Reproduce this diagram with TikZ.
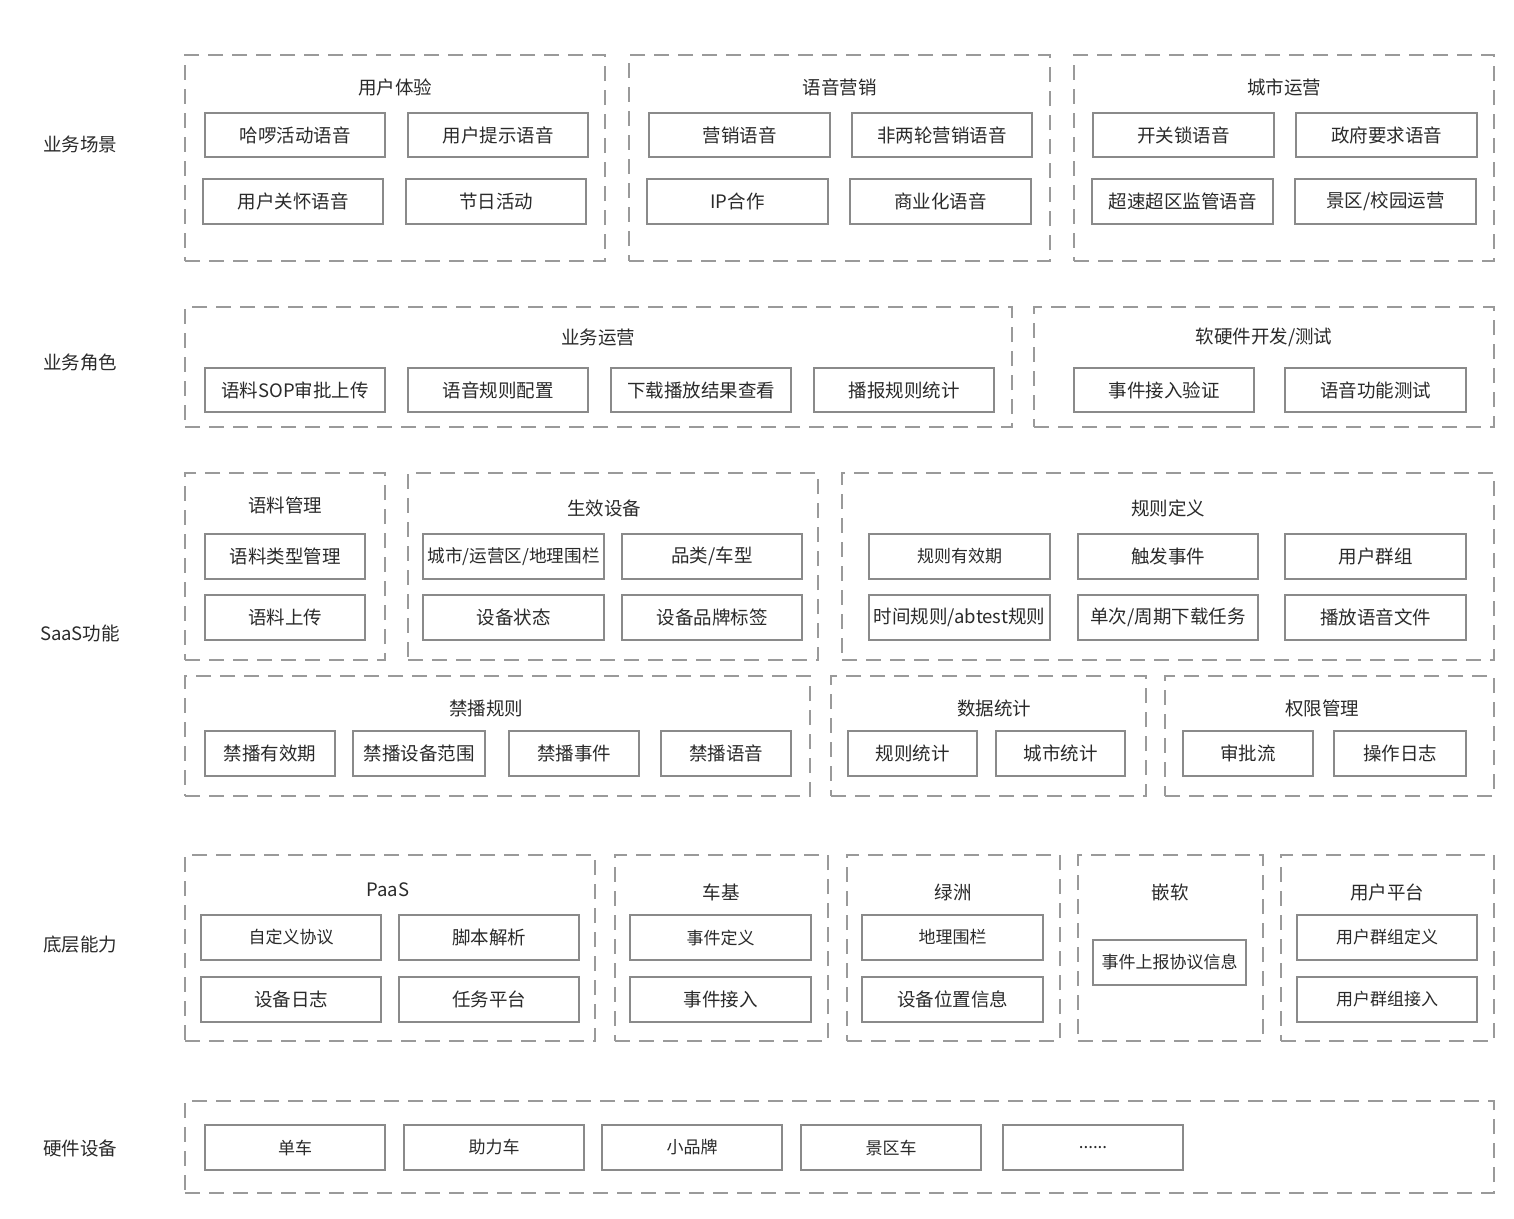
\documentclass[tikz,border=0pt]{standalone}
\usepackage{fontspec}
\setmainfont{Noto Sans CJK SC}
\definecolor{txt}{HTML}{2A2A2A}
\definecolor{bxline}{HTML}{8A8A8A}
\definecolor{grpline}{HTML}{9A9A9A}
\tikzset{
  bx/.style={draw=bxline,line width=1.3pt,fill=white,text=txt,inner sep=0pt,
    font=\fontsize{18.5}{20}\selectfont},
  smallbx/.style={font=\fontsize{17}{18}\selectfont},
  midbx/.style={font=\fontsize{17.6}{18}\selectfont},
  grp/.style={draw=grpline,line width=1.3pt,dash pattern=on 15pt off 9pt,inner sep=0pt},
  ttl/.style={text=txt,inner sep=0pt,font=\fontsize{18.5}{20}\selectfont},
  side/.style={text=txt,inner sep=0pt,font=\fontsize{18.5}{20}\selectfont}
}
\newcommand\mybox[7][]{%
  \pgfmathsetmacro\mbcx{(#3+#5)/2}\pgfmathsetmacro\mbcy{(#4+#6)/2}%
  \pgfmathsetmacro\mbww{#5-#3}\pgfmathsetmacro\mbhh{#6-#4}%
  \node[bx,#1,minimum width=\mbww pt,minimum height=\mbhh pt] (#2) at (\mbcx,\mbcy) {\raisebox{-1.5pt}{#7}};}
% name, x1, y1, x2, y2, title, title x, title y
\newcommand\mygrp[8]{%
  \pgfmathsetmacro\mbcx{(#2+#4)/2}\pgfmathsetmacro\mbcy{(#3+#5)/2}%
  \pgfmathsetmacro\mbww{#4-#2}\pgfmathsetmacro\mbhh{#5-#3}%
  \node[grp,minimum width=\mbww pt,minimum height=\mbhh pt] (#1) at (\mbcx,\mbcy) {};
  \node[ttl] (#1t) at (#7,#8) {#6};}
\begin{document}
\begin{tikzpicture}[x=1pt,y=-1pt]
\useasboundingbox[fill=white] (0,0) rectangle (1514,1218);
% side labels
\node[side] (s1) at (80,144) {业务场景};
\node[side] (s2) at (80,363) {业务角色};
\node[side] (s3) at (80,633) {SaaS功能};
\node[side] (s4) at (80,945) {底层能力};
\node[side] (s5) at (80,1148) {硬件设备};
% Row 1
\mygrp{g11}{185}{55}{605}{261}{用户体验}{395}{87}
\mybox{a1}{205}{113}{385}{157}{哈啰活动语音}
\mybox{a2}{408}{113}{588}{157}{用户提示语音}
\mybox{a3}{203}{179}{383}{224}{用户关怀语音}
\mybox{a4}{406}{179}{586}{224}{节日活动}
\mygrp{g12}{629}{55}{1050}{261}{语音营销}{839.5}{87}
\mybox{a5}{649}{113}{830}{157}{营销语音}
\mybox{a6}{852}{113}{1032}{157}{非两轮营销语音}
\mybox{a7}{647}{179}{828}{224}{IP合作}
\mybox{a8}{850}{179}{1031}{224}{商业化语音}
\mygrp{g13}{1074}{55}{1494}{261}{城市运营}{1284}{87}
\mybox{a9}{1093}{113}{1274}{157}{开关锁语音}
\mybox{a10}{1296}{113}{1477}{157}{政府要求语音}
\mybox{a11}{1092}{179}{1273}{224}{超速超区监管语音}
\mybox{a12}{1295}{179}{1476}{224}{景区/校园运营}
% Row 2
\mygrp{g21}{185}{307}{1012}{427}{业务运营}{598}{337}
\mybox{b1}{205}{368}{385}{412}{语料SOP审批上传}
\mybox{b2}{408}{368}{588}{412}{语音规则配置}
\mybox{b3}{611}{368}{791}{412}{下载播放结果查看}
\mybox{b4}{814}{368}{994}{412}{播报规则统计}
\mygrp{g22}{1034}{307}{1494}{427}{软硬件开发/测试}{1264}{337}
\mybox{b5}{1074}{368}{1254}{412}{事件接入验证}
\mybox{b6}{1285}{368}{1466}{412}{语音功能测试}
% Row 3
\mygrp{g31}{185}{473}{385}{660}{语料管理}{285}{505}
\mybox{c1}{205}{534}{365}{579}{语料类型管理}
\mybox{c2}{205}{595}{365}{640}{语料上传}
\mygrp{g32}{408}{473}{818}{660}{生效设备}{604}{508}
\mybox[midbx]{c3}{423}{534}{604}{579}{城市/运营区/地理围栏}
\mybox{c4}{622}{534}{802}{579}{品类/车型}
\mybox{c5}{423}{595}{604}{640}{设备状态}
\mybox{c6}{622}{595}{802}{640}{设备品牌标签}
\mygrp{g33}{842}{473}{1494}{660}{规则定义}{1168}{508}
\mybox[smallbx]{c7}{869}{534}{1050}{579}{规则有效期}
\mybox{c8}{1078}{534}{1258}{579}{触发事件}
\mybox{c9}{1285}{534}{1466}{579}{用户群组}
\mybox{c10}{869}{595}{1050}{640}{时间规则/abtest规则}
\mybox{c11}{1078}{595}{1258}{640}{单次/周期下载任务}
\mybox{c12}{1285}{595}{1466}{640}{播放语音文件}
% Row 4
\mygrp{g41}{185}{676}{810}{796}{禁播规则}{486}{708}
\mybox{d1}{205}{731}{335}{776}{禁播有效期}
\mybox{d2}{353}{731}{485}{776}{禁播设备范围}
\mybox{d3}{509}{731}{639}{776}{禁播事件}
\mybox{d4}{661}{731}{791}{776}{禁播语音}
\mygrp{g42}{831}{676}{1146}{796}{数据统计}{994}{708}
\mybox{d5}{848}{731}{977}{776}{规则统计}
\mybox{d6}{996}{731}{1125}{776}{城市统计}
\mygrp{g43}{1165}{676}{1494}{796}{权限管理}{1322}{708}
\mybox{d7}{1183}{731}{1313}{776}{审批流}
\mybox{d8}{1334}{731}{1466}{776}{操作日志}
% Row 5
\mygrp{g51}{185}{855}{595}{1041}{PaaS}{388}{890}
\mybox[smallbx]{e1}{201}{915}{381}{960}{自定义协议}
\mybox{e2}{399}{915}{579}{960}{脚本解析}
\mybox{e3}{201}{977}{381}{1022}{设备日志}
\mybox{e4}{399}{977}{579}{1022}{任务平台}
\mygrp{g52}{615}{855}{828}{1041}{车基}{721}{892}
\mybox[smallbx]{e5}{630}{915}{811}{960}{事件定义}
\mybox{e6}{630}{977}{811}{1022}{事件接入}
\mygrp{g53}{847}{855}{1060}{1041}{绿洲}{953}{892}
\mybox[smallbx]{e7}{862}{915}{1043}{960}{地理围栏}
\mybox{e8}{862}{977}{1043}{1022}{设备位置信息}
\mygrp{g54}{1078}{855}{1263}{1041}{嵌软}{1170}{892}
\mybox[smallbx]{e9}{1093}{940}{1246}{985}{事件上报协议信息}
\mygrp{g55}{1281}{855}{1494}{1041}{用户平台}{1387}{892}
\mybox[smallbx]{e10}{1297}{915}{1477}{960}{用户群组定义}
\mybox[smallbx]{e11}{1297}{977}{1477}{1022}{用户群组接入}
% Row 6
\node[grp,minimum width=1309pt,minimum height=92pt] (g61) at (839.5,1147) {};
\mybox[smallbx]{f1}{205}{1125}{385}{1170}{单车}
\mybox[smallbx]{f2}{404}{1125}{584}{1170}{助力车}
\mybox[smallbx]{f3}{602}{1125}{782}{1170}{小品牌}
\mybox[smallbx]{f4}{801}{1125}{981}{1170}{景区车}
\mybox[smallbx]{f5}{1003}{1125}{1183}{1170}{......}
\end{tikzpicture}
\end{document}
